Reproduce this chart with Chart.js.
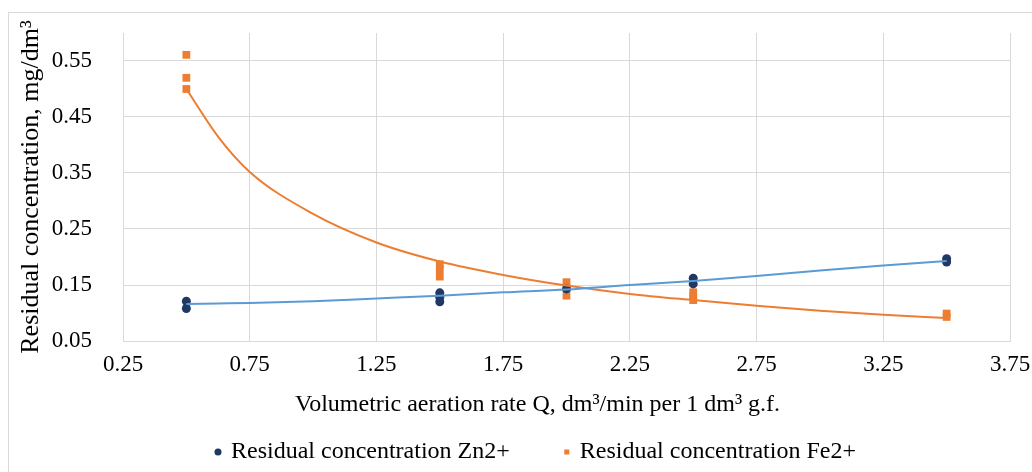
<!DOCTYPE html>
<html>
<head>
<meta charset="utf-8">
<title>Residual concentration vs aeration rate</title>
<script src="https://cdn.jsdelivr.net/npm/chart.js@4.4.1/dist/chart.umd.min.js"></script>
<style>
  html, body { margin: 0; padding: 0; background: #fff; }
  #wrap { position: relative; width: 1032px; height: 472px; overflow: hidden; }
  #frame { position: absolute; left: 8px; top: 12px; width: 1060px; height: 500px;
           border: 1px solid #d9d9d9; box-sizing: border-box; pointer-events: none; }
  #chart { position: absolute; left: 0; top: 0; }
</style>
</head>
<body>
<div id="wrap">
  <canvas id="chart" width="1032" height="472"></canvas>
  <div id="frame"></div>
</div>
<script>
// === Datos ===
const znX = [0.5, 0.5, 1.5, 1.5, 1.5, 2.0, 2.5, 2.5, 3.5, 3.5];
const znY = [0.121, 0.108, 0.136, 0.128, 0.120, 0.143, 0.162, 0.152, 0.197, 0.191];

const feX = [0.5, 0.5, 0.5, 1.5, 1.5, 1.5, 2.0, 2.0, 2.0, 2.5, 2.5, 2.5, 3.5, 3.5];
const feY = [0.561, 0.520, 0.500, 0.187, 0.178, 0.165, 0.155, 0.145, 0.131, 0.137, 0.130, 0.123, 0.099, 0.093];

// lineas de tendencia (leidas punto a punto)
const trendX  = [0.5, 0.625, 0.75, 1.0, 1.25, 1.5, 1.75, 2.0, 2.25, 2.5, 2.75, 3.0, 3.25, 3.5];
const znTrend = [0.116, 0.117, 0.118, 0.121, 0.126, 0.131, 0.137, 0.142, 0.150, 0.157, 0.166, 0.176, 0.185, 0.193];
const feTrend = [0.500, 0.415, 0.352, 0.277, 0.226, 0.192, 0.168, 0.149, 0.134, 0.123, 0.113, 0.104, 0.097, 0.091];

const xTicks = [0.25, 0.75, 1.25, 1.75, 2.25, 2.75, 3.25, 3.75];
const yTicks = [0.05, 0.15, 0.25, 0.35, 0.45, 0.55];

const seriesNames = ['Residual concentration Zn2+', 'Residual concentration Fe2+'];
const xTitle = 'Volumetric aeration rate Q, dm\u00B3/min per 1 dm\u00B3 g.f.';
const yTitle = 'Residual concentration, mg/dm\u00B3';

const toPoints = (xs, ys) => xs.map((x, i) => ({ x: x, y: ys[i] }));

const FONT = "'Liberation Serif', 'Times New Roman', serif";
const GRID = '#d9d9d9';
const LEGEND_SIZE = 24;

// posicion de la leyenda y del titulo X (Excel los centra en todo el grafico)
const legendStartX = 217;
const legendCenterY = 452;
const xTitleShift = -29;

const excelPlace = {
  id: 'excelPlace',
  afterLayout(chart) {
    const lg = chart.legend;
    if (lg && lg.lineWidths) {
      const p = lg.options.labels.padding;
      const startX = (lg.left + p + lg.right - lg.lineWidths[0]) / 2;
      const dx = legendStartX - startX;
      lg.left += dx;
      lg.right += dx;
      lg.top = legendCenterY - p - LEGEND_SIZE / 2;
      lg.bottom = chart.height;
    }
    // corre el titulo del eje X un poco a la izquierda
    const xs = chart.scales.x;
    if (xs && !xs._shifted) {
      const draw = xs.drawTitle.bind(xs);
      xs.drawTitle = function () {
        const c = this.ctx;
        c.save();
        c.translate(xTitleShift, 0);
        draw();
        c.restore();
      };
      xs._shifted = true;
    }
  }
};

let chart;
function renderGrafico() {
  const ctx = document.getElementById('chart').getContext('2d');
  if (chart) chart.destroy();
  chart = new Chart(ctx, {
    type: 'scatter',
    data: {
      datasets: [
        {
          label: seriesNames[0] + ' trend',
          data: toPoints(trendX, znTrend),
          showLine: true,
          borderColor: '#5B9BD5',
          borderWidth: 2,
          pointRadius: 0,
          cubicInterpolationMode: 'monotone',
          order: 0
        },
        {
          label: seriesNames[1] + ' trend',
          data: toPoints(trendX, feTrend),
          showLine: true,
          borderColor: '#ED7D31',
          borderWidth: 2,
          pointRadius: 0,
          cubicInterpolationMode: 'monotone',
          order: 0
        },
        {
          label: seriesNames[0],
          data: toPoints(znX, znY),
          pointStyle: 'circle',
          pointRadius: 4.5,
          backgroundColor: '#1F3864',
          borderColor: '#1F3864',
          borderWidth: 0,
          order: 1
        },
        {
          label: seriesNames[1],
          data: toPoints(feX, feY),
          pointStyle: 'rect',
          pointRadius: 5.5,
          backgroundColor: '#ED7D31',
          borderColor: '#ED7D31',
          borderWidth: 0,
          order: 1
        }
      ]
    },
    options: {
      responsive: false,
      animation: false,
      devicePixelRatio: 1,
      layout: { padding: { top: 33, right: 22, left: 0, bottom: 0 } },
      plugins: {
        tooltip: { enabled: false },
        legend: {
          position: 'bottom',
          maxHeight: 44,
          labels: {
            usePointStyle: true,
            boxWidth: 2,
            boxHeight: 5,
            padding: 56,
            color: '#000',
            font: { family: FONT, size: LEGEND_SIZE },
            filter: item => !item.text.endsWith('trend')
          }
        }
      },
      scales: {
        x: {
          type: 'linear',
          min: 0.25,
          max: 3.75,
          afterBuildTicks: s => { s.ticks = xTicks.map(v => ({ value: v })); },
          afterFit: s => { s.height = 87; s.paddingLeft = 0; s.paddingRight = 0; },
          grid: { color: GRID, drawTicks: false },
          border: { color: GRID },
          ticks: {
            padding: 10,
            color: '#000',
            font: { family: FONT, size: 23 },
            maxRotation: 0,
            callback: v => v.toFixed(2)
          },
          title: {
            display: true,
            text: xTitle,
            color: '#000',
            font: { family: FONT, size: 24 },
            padding: { top: 0, bottom: 9 }
          }
        },
        y: {
          type: 'linear',
          min: 0.05,
          max: 0.6,
          afterBuildTicks: s => { s.ticks = yTicks.map(v => ({ value: v })); },
          afterFit: s => { s.width = 123; s.paddingTop = 0; s.paddingBottom = 0; },
          grid: { color: GRID, drawTicks: false },
          border: { color: GRID },
          ticks: {
            padding: 31,
            color: '#000',
            font: { family: FONT, size: 23 },
            callback: v => v.toFixed(2)
          },
          title: {
            display: true,
            text: yTitle,
            color: '#000',
            font: { family: FONT, size: 26 },
            padding: { top: 16, bottom: 0 }
          }
        }
      }
    },
    plugins: [excelPlace]
  });
}

renderGrafico();
</script>
</body>
</html>
